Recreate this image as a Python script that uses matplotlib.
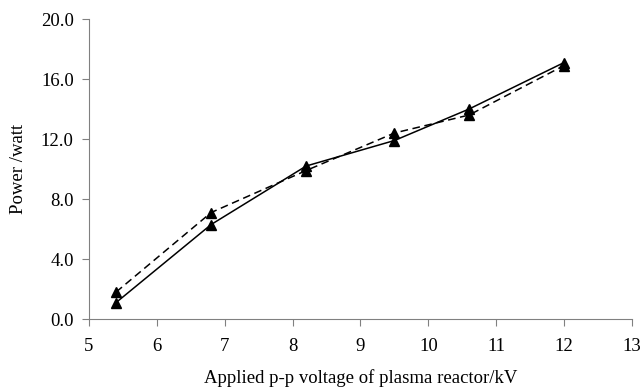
import matplotlib.pyplot as plt
from matplotlib.ticker import FormatStrFormatter

plt.rcParams['font.family'] = 'Liberation Serif'

voltage = [5.4, 6.8, 8.2, 9.5, 10.6, 12.0]
power_solid = [1.1, 6.3, 10.2, 11.9, 14.0, 17.1]
power_dashed = [1.8, 7.1, 9.9, 12.4, 13.6, 16.9]

fig = plt.figure(figsize=(6.43, 3.91), dpi=100)
ax = fig.add_axes([0.1384, 0.1841, 0.8445, 0.7673])

ax.plot(voltage, power_solid, color='black', linestyle='-', linewidth=1.1,
        marker='^', markersize=6.5, clip_on=False)
ax.plot(voltage, power_dashed, color='black', linestyle=(0, (5, 3)), linewidth=1.1,
        marker='^', markersize=6.5, clip_on=False)

ax.set_xlim(5, 13)
ax.set_ylim(0, 20)
ax.set_xticks(range(5, 14))
ax.set_yticks([0, 4, 8, 12, 16, 20])
ax.yaxis.set_major_formatter(FormatStrFormatter('%.1f'))

for side in ['top', 'right']:
    ax.spines[side].set_visible(False)
for side in ['left', 'bottom']:
    ax.spines[side].set_color('#808080')
    ax.spines[side].set_linewidth(0.8)
ax.tick_params(direction='out', length=5, color='#808080', labelsize=13.5)
ax.tick_params(axis='x', pad=9)
ax.tick_params(axis='y', pad=6)

ax.set_xlabel('Applied p-p voltage of plasma reactor/kV', fontsize=13.5, labelpad=10)
ax.set_ylabel('Power /watt', fontsize=13.5, labelpad=10)

fig.savefig('out.png', dpi=100)
